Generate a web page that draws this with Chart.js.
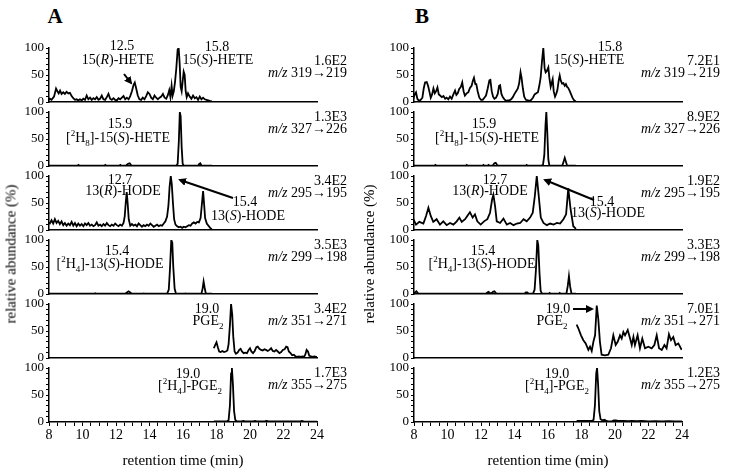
<!DOCTYPE html>
<html>
<head>
<title>Chiral LC-MS chromatograms</title>
<script src="https://cdn.jsdelivr.net/npm/chart.js@4.4.1/dist/chart.umd.min.js"></script>
<style>
  body { margin: 0; background: #fff; }
  #wrap { position: relative; width: 729px; height: 472px; overflow: hidden;
          font-family: "Liberation Serif", "Times New Roman", serif; color: #000; }
  .pane { position: absolute; }
  .lbl { position: absolute; transform: translate(-50%, -50%); white-space: nowrap; font-size: 14px; line-height: 1; }
  .rt { position: absolute; transform: translate(-100%, -50%); white-space: nowrap; font-size: 14px; line-height: 1; }
  .ylab { position: absolute; transform: translate(-50%, -50%) rotate(-90deg); white-space: nowrap; font-size: 15px; line-height: 1; }
  .big { position: absolute; transform: translate(-50%, -50%); font-size: 21px; font-weight: bold; }
  sub, sup { font-size: 9px; line-height: 0; }
</style>
</head>
<body>
<div id="wrap"></div>
<script>
// retention time (min), relative abundance (%)
var a1 = [[7.95,3],[8.05,6],[8.15,4],[8.3,10],[8.42,25],[8.5,20],[8.58,16],[8.66,21],[8.75,15],[8.85,18],[8.95,15],[9.05,19],[9.15,16],[9.25,17],[9.35,11],[9.45,7],[9.55,4],[9.65,5],[9.75,3],[9.85,5],[9.95,3],[10.05,6],[10.15,4],[10.25,12],[10.35,5],[10.45,8],[10.55,4],[10.65,7],[10.75,5],[10.85,9],[10.95,4],[11.05,6],[11.15,12],[11.25,5],[11.35,4],[11.45,9],[11.55,15],[11.65,6],[11.75,4],[11.85,7],[11.95,4],[12.05,3],[12.15,7],[12.25,5],[12.35,8],[12.45,11],[12.55,5],[12.65,8],[12.75,5],[12.85,11],[12.95,20],[13.05,32],[13.12,36],[13.2,26],[13.3,12],[13.4,5],[13.5,4],[13.6,8],[13.7,5],[13.8,11],[13.9,18],[14.0,15],[14.1,8],[14.2,5],[14.3,12],[14.4,8],[14.5,5],[14.6,8],[14.7,10],[14.8,15],[14.9,8],[15.0,6],[15.1,13],[15.18,22],[15.25,9],[15.32,30],[15.38,12],[15.45,20],[15.52,36],[15.6,62],[15.68,97],[15.74,100],[15.8,72],[15.86,28],[15.92,20],[15.98,38],[16.04,56],[16.1,50],[16.16,20],[16.22,9],[16.3,16],[16.4,10],[16.5,6],[16.6,12],[16.7,7],[16.8,9],[16.9,4],[17.0,10],[17.1,5],[17.2,8],[17.3,5],[17.4,4],[17.5,3],[17.6,2],[17.72,1]];
var a2 = [[7.95,0.5],[9.7,0.5],[9.76,2],[9.82,0.5],[11.3,0.5],[11.36,2],[11.42,0.5],[12.2,0.5],[12.26,2],[12.32,0.5],[12.6,1],[12.72,4],[12.82,5],[12.92,1],[15.6,0.5],[15.68,4],[15.75,45],[15.81,100],[15.86,92],[15.92,35],[15.98,4],[16.05,0.5],[16.9,0.5],[16.97,4],[17.03,5],[17.1,1],[17.74,0.5]];
var a3 = [[7.95,14],[8.05,12],[8.15,18],[8.25,12],[8.35,20],[8.45,13],[8.55,17],[8.65,11],[8.75,16],[8.85,9],[8.95,13],[9.05,8],[9.15,12],[9.25,9],[9.35,15],[9.45,8],[9.55,13],[9.65,7],[9.75,12],[9.85,8],[9.95,11],[10.05,7],[10.15,12],[10.25,9],[10.35,13],[10.45,8],[10.55,10],[10.65,7],[10.75,9],[10.85,14],[10.95,8],[11.05,10],[11.15,7],[11.25,11],[11.35,8],[11.45,13],[11.55,9],[11.65,7],[11.75,10],[11.85,8],[11.95,12],[12.05,9],[12.15,7],[12.25,10],[12.35,8],[12.45,13],[12.52,25],[12.58,50],[12.64,70],[12.7,48],[12.76,20],[12.85,8],[12.95,11],[13.05,8],[13.15,10],[13.25,7],[13.35,12],[13.45,9],[13.55,6],[13.65,9],[13.75,7],[13.85,10],[13.95,8],[14.05,12],[14.15,9],[14.25,6],[14.35,8],[14.45,10],[14.55,7],[14.65,9],[14.75,8],[14.85,12],[14.95,16],[15.05,25],[15.13,45],[15.2,80],[15.27,100],[15.33,85],[15.4,50],[15.47,20],[15.55,10],[15.65,7],[15.75,5],[15.85,6],[15.95,4],[16.05,6],[16.15,5],[16.25,7],[16.35,9],[16.45,8],[16.55,12],[16.65,14],[16.75,12],[16.85,15],[16.95,14],[17.05,22],[17.12,45],[17.2,72],[17.26,48],[17.32,22],[17.42,12],[17.52,8],[17.62,4],[17.72,1]];
var a4 = [[7.95,0.5],[10.7,0.5],[10.76,1.5],[10.82,0.5],[12.55,0.5],[12.65,3],[12.75,5],[12.85,3],[12.95,0.5],[13.6,0.5],[13.65,1],[13.7,0.5],[15.05,0.5],[15.15,8],[15.22,45],[15.3,100],[15.36,95],[15.42,50],[15.5,10],[15.58,0.5],[16.1,0.5],[16.15,1],[16.2,0.5],[17.1,0.5],[17.17,10],[17.23,23],[17.29,12],[17.36,1],[17.74,0.5]];
var a5 = [[17.84,18],[17.92,24],[18.0,29],[18.08,20],[18.16,12],[18.25,11],[18.35,13],[18.45,11],[18.55,12],[18.65,14],[18.72,25],[18.8,60],[18.87,100],[18.94,80],[19.0,40],[19.08,12],[19.16,8],[19.26,10],[19.36,15],[19.44,17],[19.52,12],[19.62,9],[19.72,10],[19.82,9],[19.92,15],[20.0,18],[20.08,12],[20.18,9],[20.28,13],[20.38,20],[20.46,21],[20.56,17],[20.66,15],[20.76,14],[20.86,16],[20.96,15],[21.06,13],[21.16,15],[21.26,18],[21.36,13],[21.46,12],[21.56,15],[21.66,12],[21.76,9],[21.86,11],[21.96,15],[22.06,16],[22.16,21],[22.24,20],[22.32,12],[22.42,9],[22.52,5],[22.62,6],[22.72,3],[22.82,2],[22.92,3],[23.02,2],[23.12,3],[23.22,2],[23.3,6],[23.38,15],[23.46,12],[23.54,4],[23.64,3],[23.74,2],[23.84,3],[23.94,2],[24.06,2]];
var a6 = [[17.84,1],[18.4,1],[18.6,1],[18.72,3],[18.8,30],[18.87,90],[18.92,100],[18.98,70],[19.05,20],[19.12,4],[19.2,1.5],[19.5,1],[19.6,2],[19.7,1],[20.2,1],[20.3,2],[20.4,1],[20.9,1.5],[21.0,2],[21.1,1],[22.0,1],[23.0,1],[23.1,2],[23.2,1],[24.0,0.5]];

var b1 = [[7.96,6],[8.04,14],[8.12,18],[8.2,6],[8.3,2],[8.4,4],[8.5,8],[8.58,25],[8.66,36],[8.76,37],[8.84,30],[8.9,22],[9.0,8],[9.08,14],[9.16,25],[9.24,16],[9.32,20],[9.4,27],[9.48,14],[9.56,12],[9.66,9],[9.76,11],[9.86,6],[9.95,8],[10.05,5],[10.15,10],[10.25,6],[10.35,14],[10.45,21],[10.53,13],[10.61,16],[10.7,24],[10.8,28],[10.88,36],[10.96,20],[11.04,12],[11.14,16],[11.24,18],[11.34,26],[11.44,30],[11.52,40],[11.58,45],[11.66,33],[11.72,33],[11.8,20],[11.9,8],[12.0,4],[12.1,4],[12.2,8],[12.3,12],[12.4,25],[12.5,40],[12.56,41],[12.64,20],[12.72,10],[12.8,6],[12.9,8],[13.0,15],[13.08,30],[13.14,31],[13.22,15],[13.3,9],[13.4,5],[13.5,2],[13.6,3],[13.7,3],[13.8,5],[13.9,9],[14.0,15],[14.1,20],[14.2,25],[14.28,35],[14.36,55],[14.42,45],[14.5,25],[14.58,10],[14.68,4],[14.8,3],[14.9,2],[15.0,4],[15.1,8],[15.2,14],[15.3,16],[15.4,18],[15.48,30],[15.56,45],[15.64,75],[15.72,100],[15.8,62],[15.86,55],[15.94,58],[16.02,64],[16.08,45],[16.16,28],[16.22,35],[16.28,42],[16.34,20],[16.42,10],[16.5,16],[16.56,22],[16.64,40],[16.7,49],[16.76,40],[16.84,34],[16.92,35],[17.0,30],[17.07,33],[17.14,28],[17.21,26],[17.3,20],[17.38,14],[17.46,8],[17.56,3],[17.66,1]];
var b2 = [[7.96,0.5],[9.22,0.5],[9.28,2],[9.34,0.5],[11.1,0.5],[11.15,2],[11.2,0.5],[12.1,0.5],[12.15,2],[12.2,0.5],[12.4,0.5],[12.45,2],[12.5,0.5],[12.7,1],[12.8,5],[12.88,6],[12.96,2],[13.05,0.5],[14.68,0.5],[14.73,2],[14.78,0.5],[15.6,0.5],[15.7,2],[15.78,20],[15.85,75],[15.9,100],[15.96,60],[16.02,12],[16.08,1],[16.15,0.5],[16.85,0.5],[16.93,8],[17.0,15],[17.07,8],[17.14,1],[17.66,0.5]];
var b3 = [[7.96,20],[8.12,10],[8.32,15],[8.56,12],[8.72,26],[8.86,41],[9.0,26],[9.15,15],[9.35,20],[9.55,10],[9.75,16],[9.95,9],[10.15,13],[10.35,10],[10.55,16],[10.71,23],[10.85,15],[11.05,20],[11.18,26],[11.34,33],[11.5,23],[11.64,29],[11.78,16],[11.98,10],[12.18,16],[12.38,20],[12.54,32],[12.66,56],[12.74,65],[12.84,44],[12.94,16],[13.14,13],[13.34,21],[13.54,10],[13.74,13],[13.94,9],[14.14,12],[14.34,13],[14.54,20],[14.73,16],[14.93,23],[15.09,32],[15.21,62],[15.33,100],[15.45,62],[15.57,23],[15.73,13],[15.93,9],[16.13,12],[16.33,10],[16.53,13],[16.72,12],[16.92,20],[17.08,29],[17.21,77],[17.35,38],[17.51,7],[17.67,2]];
var b4 = [[7.96,1],[8.06,3],[8.14,5],[8.22,2],[8.3,0.5],[12.3,0.5],[12.38,3],[12.45,4],[12.52,2],[12.62,1],[12.72,4],[12.8,5],[12.88,2],[12.96,0.5],[14.6,0.5],[14.68,3],[14.76,3],[14.84,0.5],[15.1,0.5],[15.2,8],[15.28,45],[15.36,100],[15.42,90],[15.49,40],[15.56,6],[15.64,0.5],[16.05,0.5],[16.1,2],[16.15,0.5],[16.65,0.5],[16.7,2],[16.75,0.5],[17.1,0.5],[17.18,15],[17.25,33],[17.32,14],[17.4,1],[17.67,0.5]];
var b5 = [[17.71,62],[17.81,55],[17.97,42],[18.11,33],[18.25,27],[18.41,15],[18.51,21],[18.61,13],[18.71,30],[18.81,42],[18.91,97],[19.0,73],[19.1,30],[19.2,6],[19.4,5],[19.6,6],[19.76,18],[19.9,42],[20.04,24],[20.16,30],[20.3,42],[20.4,36],[20.5,48],[20.6,42],[20.76,52],[20.9,36],[21.0,24],[21.1,39],[21.19,24],[21.35,42],[21.49,18],[21.63,36],[21.79,18],[21.99,21],[22.19,18],[22.35,24],[22.49,42],[22.63,18],[22.79,15],[22.95,24],[23.08,18],[23.22,44],[23.34,33],[23.48,39],[23.62,24],[23.78,27],[23.98,15]];
var b6 = [[17.71,2],[18.0,2],[18.3,2],[18.6,2],[18.72,4],[18.8,30],[18.88,90],[18.93,100],[18.99,70],[19.06,20],[19.14,5],[19.25,3],[19.38,4],[19.48,2],[19.6,1],[19.8,1],[19.92,3],[20.05,3],[20.2,2],[20.5,2],[20.8,1.5],[21.0,2],[21.3,1.5],[21.6,2],[22.0,1],[22.4,1.5],[22.8,1],[23.2,1.5],[23.6,1],[24.0,1]];

var maxA = ['1.6E2', '1.3E3', '3.4E2', '3.5E3', '3.4E2', '1.7E3'];
var maxB = ['7.2E1', '8.9E2', '1.9E2', '3.3E3', '7.0E1', '1.2E3'];
var transitions = ['319→219', '327→226', '295→195', '299→198', '351→271', '355→275'];
var yTickLabels = [0, 50, 100];

// layout
var panelTops = [48, 112, 176, 240, 304, 368];
var PLOT_H = 54, PLOT_W = 268, AXIS_W = 40, PAD_T = 10, PAD_B = 10;
var colA = 49, colB = 414;

Chart.defaults.font.family = "'Liberation Serif', 'Times New Roman', serif";
Chart.defaults.color = '#000';

var wrap = document.getElementById('wrap');

function makePanel(col, i, trace) {
    var bottom = (i === 5);
    var cv = document.createElement('canvas');
    cv.width = AXIS_W + PLOT_W + 12;
    cv.height = PAD_T + PLOT_H + (bottom ? 52 : PAD_B);
    cv.className = 'pane';
    cv.style.left = (col - AXIS_W) + 'px';
    cv.style.top = (panelTops[i] - PAD_T) + 'px';
    wrap.appendChild(cv);

    new Chart(cv.getContext('2d'), {
        type: 'line',
        data: {
            datasets: [{
                data: trace,
                borderColor: '#000',
                borderWidth: 1.8,
                pointRadius: 0,
                tension: 0,
                fill: false
            }]
        },
        options: {
            responsive: false,
            animation: false,
            events: [],
            layout: { padding: { top: PAD_T, right: 12, bottom: bottom ? 0 : PAD_B, left: 0 } },
            plugins: { legend: { display: false }, tooltip: { enabled: false } },
            scales: {
                x: {
                    type: 'linear', min: 8, max: 24,
                    border: { display: true, color: '#000', width: 1.5 },
                    grid: { display: true, drawOnChartArea: false, drawTicks: bottom, tickLength: 4, color: '#000', lineWidth: 1 },
                    ticks: {
                        display: bottom, stepSize: 0.5, autoSkip: false, maxRotation: 0, padding: 1,
                        font: { size: 14 },
                        callback: function (v) { return v % 2 === 0 ? v : ''; }
                    },
                    title: { display: bottom, text: 'retention time (min)', font: { size: 15 }, padding: { top: 3 } },
                    afterFit: function (s) { s.height = bottom ? 52 : 0; }
                },
                y: {
                    min: 0, max: 100,
                    border: { display: true, color: '#000', width: 1.5 },
                    grid: { drawOnChartArea: false, tickLength: 3, color: '#000', lineWidth: 1 },
                    ticks: {
                        stepSize: 10, padding: 2, autoSkip: false, font: { size: 13 },
                        callback: function (v) { return yTickLabels.indexOf(v) >= 0 ? v : ''; }
                    },
                    afterFit: function (s) { s.width = AXIS_W; }
                }
            }
        }
    });
}

var tracesA = [a1, a2, a3, a4, a5, a6];
var tracesB = [b1, b2, b3, b4, b5, b6];
for (var i = 0; i < 6; i++) {
    makePanel(colA, i, tracesA[i]);
    makePanel(colB, i, tracesB[i]);
}

function put(cls, x, y, html) {
    var d = document.createElement('div');
    d.className = cls;
    d.style.left = x + 'px';
    d.style.top = y + 'px';
    d.innerHTML = html;
    wrap.appendChild(d);
}

// panel letters and axis titles
put('big', 55, 16, 'A');
put('big', 422, 16, 'B');
put('ylab', 11, 254, 'relative abundance (%)');
put('ylab', 369, 254, 'relative abundance (%)');

// base peak intensity and transition on the right of each trace
for (var k = 0; k < 6; k++) {
    var y1 = k === 0 ? 61 : panelTops[k] + 5;
    put('rt', 347, y1, maxA[k]);
    put('rt', 347, y1 + 12, '<i>m/z</i> ' + transitions[k]);
    put('rt', 720, y1, maxB[k]);
    put('rt', 720, y1 + 12, '<i>m/z</i> ' + transitions[k]);
}

// peak labels
put('lbl', 122, 46, '12.5');
put('lbl', 118, 60, '15(<i>R</i>)-HETE');
put('lbl', 217, 47, '15.8');
put('lbl', 218, 60, '15(<i>S</i>)-HETE');
put('lbl', 120, 124, '15.9');
put('lbl', 118, 138, '[<sup>2</sup>H<sub>8</sub>]-15(<i>S</i>)-HETE');
put('lbl', 120, 180, '12.7');
put('lbl', 123, 191, '13(<i>R</i>)-HODE');
put('lbl', 245, 202, '15.4');
put('lbl', 248, 216, '13(<i>S</i>)-HODE');
put('lbl', 117, 251, '15.4');
put('lbl', 110, 264, '[<sup>2</sup>H<sub>4</sub>]-13(<i>S</i>)-HODE');
put('lbl', 207, 309, '19.0');
put('lbl', 208, 321, 'PGE<sub>2</sub>');
put('lbl', 188, 374, '19.0');
put('lbl', 190, 386, '[<sup>2</sup>H<sub>4</sub>]-PGE<sub>2</sub>');

put('lbl', 610, 47, '15.8');
put('lbl', 589, 60, '15(<i>S</i>)-HETE');
put('lbl', 484, 124, '15.9');
put('lbl', 487, 138, '[<sup>2</sup>H<sub>8</sub>]-15(<i>S</i>)-HETE');
put('lbl', 495, 180, '12.7');
put('lbl', 490, 191, '13(<i>R</i>)-HODE');
put('lbl', 602, 202, '15.4');
put('lbl', 608, 213, '13(<i>S</i>)-HODE');
put('lbl', 483, 251, '15.4');
put('lbl', 482, 264, '[<sup>2</sup>H<sub>4</sub>]-13(<i>S</i>)-HODE');
put('lbl', 558, 309, '19.0');
put('lbl', 552, 321, 'PGE<sub>2</sub>');
put('lbl', 557, 374, '19.0');
put('lbl', 557, 386, '[<sup>2</sup>H<sub>4</sub>]-PGE<sub>2</sub>');

// arrows
var svgNS = 'http://www.w3.org/2000/svg';
var svg = document.createElementNS(svgNS, 'svg');
svg.setAttribute('width', 729);
svg.setAttribute('height', 472);
svg.style.position = 'absolute';
svg.style.left = '0px';
svg.style.top = '0px';
svg.innerHTML = '<defs><marker id="ah" markerWidth="8" markerHeight="8" refX="6" refY="4" orient="auto" markerUnits="userSpaceOnUse">' +
    '<path d="M0,0 L8,4 L0,8 z" fill="#000"/></marker></defs>';
var arrows = [[124, 74, 131, 83], [233, 198, 180, 180], [594, 200, 545, 180], [573, 309, 592, 309]];
arrows.forEach(function (a) {
    var l = document.createElementNS(svgNS, 'line');
    l.setAttribute('x1', a[0]); l.setAttribute('y1', a[1]);
    l.setAttribute('x2', a[2]); l.setAttribute('y2', a[3]);
    l.setAttribute('stroke', '#000'); l.setAttribute('stroke-width', 2);
    l.setAttribute('marker-end', 'url(#ah)');
    svg.appendChild(l);
});
wrap.appendChild(svg);
</script>
</body>
</html>
